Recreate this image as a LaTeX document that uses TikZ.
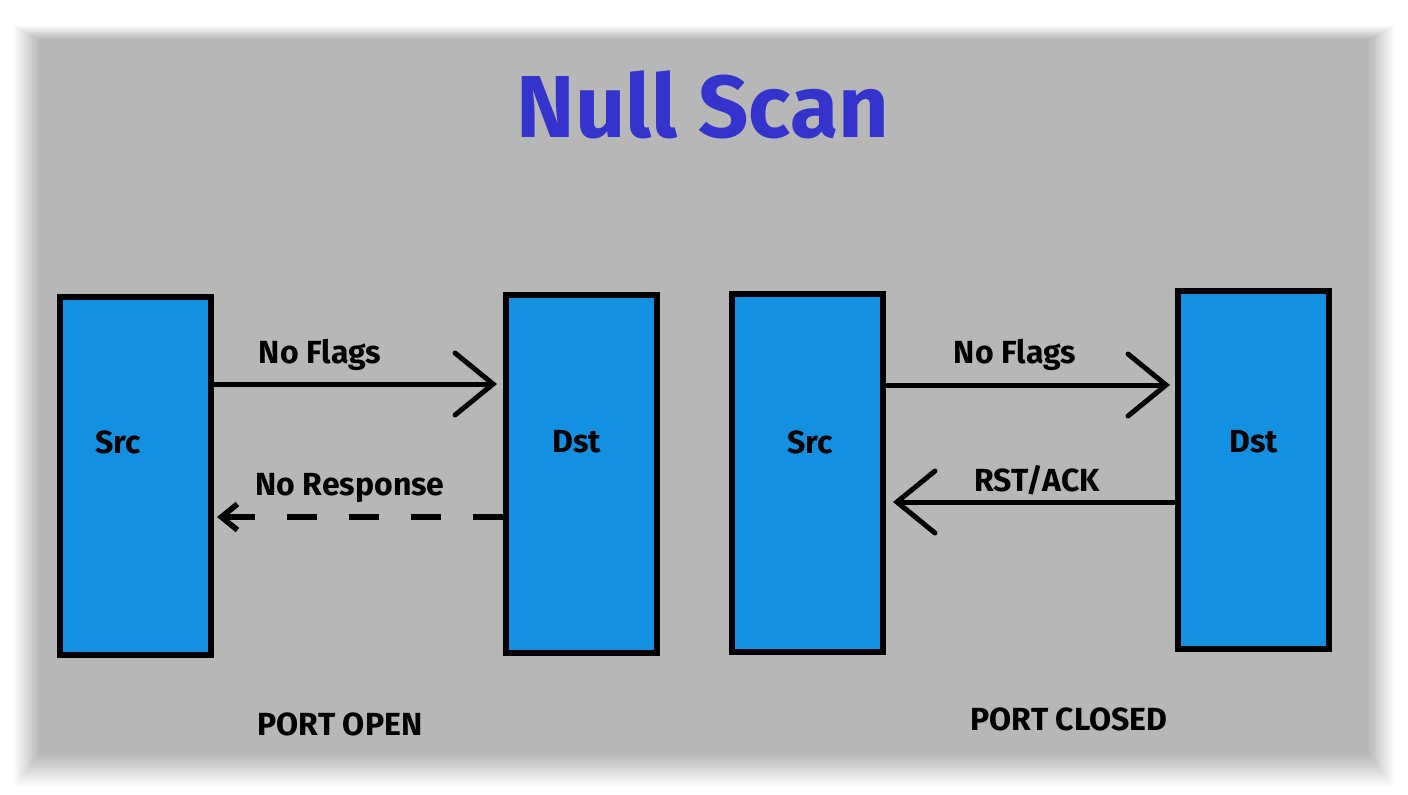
\documentclass[tikz,border=0pt]{standalone}
\usepackage{fontspec}
\setmainfont{Fira Sans}
\usetikzlibrary{arrows.meta}
\definecolor{bggray}{RGB}{183,183,183}
\definecolor{boxblue}{RGB}{20,144,224}
\definecolor{titleblue}{RGB}{52,52,204}

\begin{document}
\begin{tikzpicture}[x=0.5pt,y=-0.5pt]
\tikzstyle{every node}+=[inner sep=0pt, font=\bfseries\fontsize{16}{19}\selectfont]
\tikzstyle{host}=[draw=black, line width=3pt, fill=boxblue, minimum width=75.5pt, minimum height=179pt]
\tikzstyle{msg}=[line width=2.5pt, -{Straight Barb[length=19pt,width=31pt,line cap=round]}]
\useasboundingbox (0,0) rectangle (1408,794);
\fill [white] (0,0) rectangle (1408,794);
\foreach \i in {1,...,24}
  \fill [black, opacity=0.011] (40-\i*1.1,40-\i*0.6) rectangle (1368+\i*1.1,753+\i*1.4);
\fill [bggray] (40,40) rectangle (1368,753);
\node [text=titleblue, font=\bfseries\fontsize{44}{50}\selectfont] (title) at (703,105) {Null Scan};
\node [host] (src1) at (135.5,476) {};
\node [host] (dst1) at (581.5,474) {};
\node [host] (src2) at (807.5,472.5) {};
\node [host] (dst2) at (1253.5,469.5) {};
\node (src1t) at (118,442) {Src};
\node (dst1t) at (577,442) {Dst};
\node (src2t) at (810,442) {Src};
\node (dst2t) at (1254,442) {Dst};
\coordinate (yreq1) at (0,384);
\coordinate (yres1) at (0,517);
\coordinate (yreq2) at (0,385);
\coordinate (yres2) at (0,502);
\draw [msg, shorten >=3pt] (src1.east |- yreq1) -- (dst1.west |- yreq1);
\draw [line width=2.8pt, dash pattern=on 15pt off 16pt, shorten >=1.5pt, -{Straight Barb[length=8pt,width=13pt]}] (dst1.west |- yres1) -- (src1.east |- yres1);
\draw [msg, shorten >=2.5pt] (src2.east |- yreq2) -- (dst2.west |- yreq2);
\draw [msg, shorten >=3.5pt] (dst2.west |- yres2) -- (src2.east |- yres2);
\node (flags1) at (320,355) {No Flags};
\node (noresp) at (350,488) {No Response};
\node (flags2) at (1015,355) {No Flags};
\node (rstack) at (1037,480) {RST/ACK};
\node (open) at (340,724) {PORT OPEN};
\node (closed) at (1069,719) {PORT CLOSED};
\end{tikzpicture}
\end{document}
